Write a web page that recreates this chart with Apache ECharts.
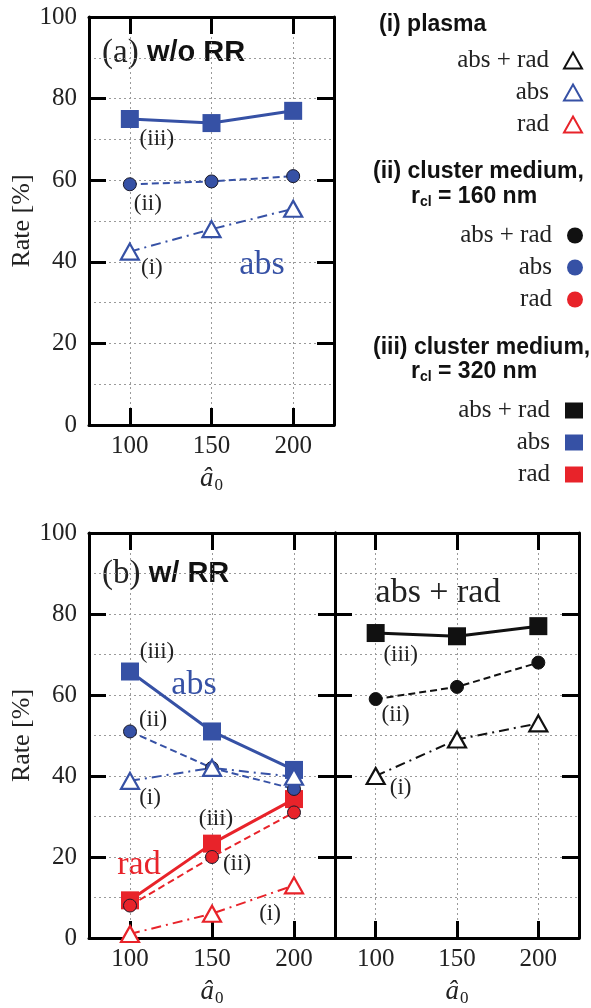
<!DOCTYPE html>
<html>
<head>
<meta charset="utf-8">
<script src="https://cdn.jsdelivr.net/npm/echarts@6/dist/echarts.min.js"></script>
<style>
  html, body { margin: 0; padding: 0; background: #fff; }
  #main { width: 591px; height: 1008px; }
</style>
</head>
<body>
<div id="main"></div>
<script>
// laser amplitude a0 (x)
const a0 = [100, 150, 200];

// (a) w/o RR : absorption rate [%]
const noRR_abs_i = [42.5, 48, 53];      // plasma
const noRR_abs_ii = [59, 59.7, 61];     // cluster r=160nm
const noRR_abs_iii = [75, 74, 77];      // cluster r=320nm

// (b) w/ RR : absorption / radiation
const rr_abs_i = [38.8, 42, 39.8];
const rr_abs_ii = [51, 42, 36.8];
const rr_abs_iii = [65.8, 51, 41.5];
const rr_rad_i = [1, 6, 13];
const rr_rad_ii = [8, 20, 31];
const rr_rad_iii = [9.3, 23.3, 34.3];

// (b) right : abs + rad
const rr_tot_i = [40, 49, 53];
const rr_tot_ii = [59, 62, 68];
const rr_tot_iii = [75.3, 74.5, 77];

const xTicks = [100, 150, 200];

const BLUE = '#3651a5';
const RED = '#e8232a';
const BLACK = '#111';
const SERIF = '"Liberation Serif", "DejaVu Serif", serif';
const SANS = '"Liberation Sans", Arial, sans-serif';

const chart = echarts.init(document.getElementById('main'), null, { renderer: 'canvas' });

// grids: (a), (b) left, (b) right
const grids = [
  { left: 89, top: 17, width: 245, height: 408 },
  { left: 89, top: 533, width: 246, height: 409 },
  { left: 335, top: 533, width: 244, height: 409 }
];

const axLine = { show: true, onZero: false, lineStyle: { color: '#000', width: 3 } };
const tick = { show: true, inside: true, length: 17, lineStyle: { color: '#000', width: 3 } };
const dotted = { show: true, lineStyle: { type: [2, 3], color: '#9a9a9a', width: 1 } };

const xAxes = [];
const yAxes = [];
grids.forEach((g, i) => {
  xAxes.push({
    type: 'value', gridIndex: i, position: 'bottom', min: 75, max: 225, interval: 25,
    axisLine: axLine,
    axisTick: Object.assign({ customValues: xTicks }, tick),
    axisLabel: { customValues: xTicks, fontFamily: SERIF, fontSize: 25, color: '#222', margin: 9 },
    splitLine: dotted,
    name: '{a|â}{s|0}', nameLocation: 'middle', nameGap: 38,
    nameTextStyle: {
      rich: {
        a: { fontFamily: SERIF, fontStyle: 'italic', fontSize: 27, color: '#222' },
        s: { fontFamily: SERIF, fontSize: 17, color: '#222', padding: [14, 0, 0, 1] }
      }
    }
  });
  xAxes.push({
    type: 'value', gridIndex: i, position: 'top', min: 75, max: 225, interval: 25,
    axisLine: axLine,
    axisTick: Object.assign({ customValues: xTicks }, tick),
    axisLabel: { show: false }, splitLine: { show: false }
  });
  yAxes.push({
    type: 'value', gridIndex: i, position: 'left', min: 0, max: 100, interval: 20,
    axisLine: axLine, axisTick: tick,
    axisLabel: { show: i !== 2, fontFamily: SERIF, fontSize: 25, color: '#222', margin: 12 },
    splitLine: dotted,
    minorTick: { show: false, splitNumber: 2 },
    minorSplitLine: dotted,
    name: i !== 2 ? 'Rate [%]' : '', nameLocation: 'middle', nameGap: 52, nameRotate: 90,
    nameTextStyle: { fontFamily: SERIF, fontSize: 26, color: '#222' }
  });
  yAxes.push({
    type: 'value', gridIndex: i, position: 'right', min: 0, max: 100, interval: 20,
    axisLine: axLine, axisTick: tick,
    axisLabel: { show: false }, splitLine: { show: false }
  });
});

const STY = {
  i: { symbol: 'triangle', size: [18, 16], type: [10, 5, 2, 5], width: 2, fill: '#fff', bw: 2.2 },
  ii: { symbol: 'circle', size: 13, type: [7, 4], width: 2, fill: null, bw: 1 },
  iii: { symbol: 'rect', size: 18, type: 'solid', width: 3, fill: null, bw: 0 }
};

// annotation label on one point: [index, text, dx, dy]
function mk(name, kind, color, vals, gi, note) {
  const s = STY[kind];
  const data = vals.map((v, k) => {
    const item = { value: [a0[k], v] };
    if (note && note[0] === k) {
      item.label = {
        show: true, position: 'inside', formatter: note[1], offset: [note[2], note[3]],
        fontFamily: SERIF, fontSize: 23, color: '#222'
      };
    }
    return item;
  });
  return {
    name: name, type: 'line', xAxisIndex: gi * 2, yAxisIndex: gi * 2,
    data: data, symbol: s.symbol, symbolSize: s.size, showAllSymbol: true,
    clip: false, animation: false, z: kind === 'i' ? 5 : (kind === 'ii' ? 4 : 3),
    lineStyle: { color: color, width: s.width, type: s.type },
    itemStyle: {
      color: s.fill || color,
      borderColor: kind === 'ii' ? '#1a1a2a' : color,
      borderWidth: s.bw, opacity: 1
    },
    label: { show: false }
  };
}

const series = [
  // (a)
  mk('iii-abs', 'iii', BLUE, noRR_abs_iii, 0, [0, '(iii)', 27, 20]),
  mk('ii-abs', 'ii', BLUE, noRR_abs_ii, 0, [0, '(ii)', 18, 20]),
  mk('i-abs', 'i', BLUE, noRR_abs_i, 0, [0, '(i)', 22, 16]),
  // (b) left
  mk('iii-abs', 'iii', BLUE, rr_abs_iii, 1, [0, '(iii)', 27, -20]),
  mk('ii-abs', 'ii', BLUE, rr_abs_ii, 1, [0, '(ii)', 23, -11]),
  mk('i-abs', 'i', BLUE, rr_abs_i, 1, [0, '(i)', 20, 17]),
  mk('iii-rad', 'iii', RED, rr_rad_iii, 1, [1, '(iii)', 4, -25]),
  mk('ii-rad', 'ii', RED, rr_rad_ii, 1, [1, '(ii)', 25, 7]),
  mk('i-rad', 'i', RED, rr_rad_i, 1, [2, '(i)', -24, 29]),
  // (b) right
  mk('iii-tot', 'iii', BLACK, rr_tot_iii, 2, [0, '(iii)', 25, 22]),
  mk('ii-tot', 'ii', BLACK, rr_tot_ii, 2, [0, '(ii)', 20, 16]),
  mk('i-tot', 'i', BLACK, rr_tot_i, 2, [0, '(i)', 25, 12])
];
series.forEach(s => { if (s.name.endsWith('tot') && s.symbol === 'circle') s.itemStyle.borderColor = BLACK; });

const legendText = { 'tot': 'abs + rad', 'abs': 'abs', 'rad': 'rad' };
function legendItem(name, icon, color) {
  const empty = icon === 'triangle';
  return {
    name: name, icon: icon,
    itemStyle: { color: empty ? '#fff' : color, borderColor: color, borderWidth: empty ? 2 : 0 }
  };
}
function legendBox(top, kind, icon) {
  return {
    show: true, orient: 'vertical', right: 3, top: top, align: 'right',
    itemWidth: icon === 'circle' ? 16 : 18, itemHeight: 16, itemGap: 7, selectedMode: false,
    formatter: n => legendText[n.split('-')[1]],
    textStyle: { fontFamily: SERIF, fontSize: 25, color: '#222', lineHeight: 24, padding: [0, 10, 0, 0] },
    data: [
      legendItem(kind + '-tot', icon, BLACK),
      legendItem(kind + '-abs', icon, BLUE),
      legendItem(kind + '-rad', icon, RED)
    ]
  };
}

const heading = (x, y, txt) => ({
  type: 'text', x: x, y: y,
  style: {
    text: txt, font: 'bold 23px ' + SANS, fill: '#111', textVerticalAlign: 'middle',
    rich: {
      s: { font: 'bold 14px ' + SANS, fill: '#111', padding: [10, 0, 0, 0] }
    }
  }
});
const bigText = (x, y, txt, color) => ({
  type: 'text', x: x, y: y,
  style: { text: txt, font: '34px ' + SERIF, fill: color, textAlign: 'center', textVerticalAlign: 'middle' }
});
const panelTitle = (x, y, tag, label) => ({
  type: 'text', x: x, y: y,
  style: {
    text: '{p|' + tag + ' }{b|' + label + '}', textVerticalAlign: 'middle',
    rich: {
      p: { font: '33px ' + SERIF, fill: '#222' },
      b: { font: 'bold 29px ' + SANS, fill: '#111' }
    }
  }
});

const option = {
  backgroundColor: '#fff',
  animation: false,
  grid: grids,
  xAxis: xAxes,
  yAxis: yAxes,
  legend: [
    legendBox(43, 'i', 'triangle'),
    legendBox(218, 'ii', 'circle'),
    legendBox(393, 'iii', 'rect')
  ],
  series: series,
  graphic: [
    panelTitle(102, 53, '(a)', 'w/o RR'),
    panelTitle(102, 574, '(b)', 'w/ RR'),
    bigText(262, 265, 'abs', BLUE),
    bigText(194, 685, 'abs', BLUE),
    bigText(139, 865, 'rad', RED),
    bigText(438, 593, 'abs + rad', '#222'),
    heading(379, 25, '(i) plasma'),
    heading(373, 172, '(ii) cluster medium,'),
    heading(411, 197, 'r{s|cl} = 160 nm'),
    heading(373, 348, '(iii) cluster medium,'),
    heading(411, 372, 'r{s|cl} = 320 nm')
  ]
};
chart.setOption(option);
</script>
</body>
</html>
